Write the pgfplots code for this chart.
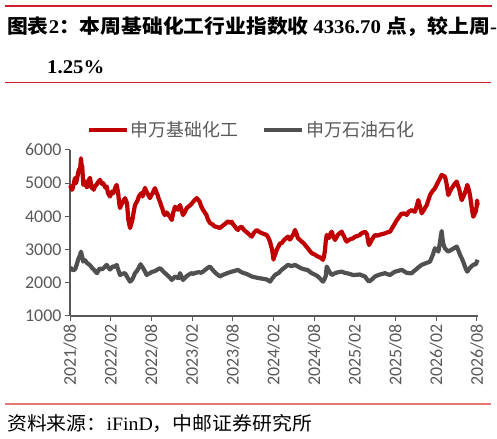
\documentclass[border=0pt]{standalone}
\usepackage{fontspec}
\usepackage{graphicx}
\usepackage{pgfplots}
\pgfplotsset{compat=1.18}
\setmainfont{Liberation Serif}
\newfontfamily\cjk{Noto Sans CJK SC}
\newfontfamily\carlito{Carlito}
\definecolor{myred}{RGB}{192,0,0}
\definecolor{mygray}{RGB}{80,80,80}
\definecolor{axgray}{RGB}{89,89,89}
\definecolor{topred}{RGB}{208,32,44}
\definecolor{pinkred}{RGB}{228,118,118}

\pgfplotstableread{
m v
0.0 4850
0.15 4900
0.3 4800
0.4 4850
0.74 5157
0.9 5000
1.0 5100
1.3 5400
1.5 5450
1.62 5750
1.7 5550
1.8 5500
1.96 4950
2.1 5000
2.3 5050
2.45 4880
2.6 4900
2.8 5100
2.95 5160
3.2 4850
3.35 4900
3.5 4800
3.7 4920
3.9 4950
4.2 5050
4.42 5100
4.7 4980
4.9 5000
5.2 4870
5.41 4900
5.6 4700
5.9 4600
6.2 4750
6.4 4700
6.7 4880
6.88 4950
7.1 4700
7.25 4400
7.37 4250
7.55 4350
7.7 4400
7.9 4480
8.11 4550
8.3 4450
8.4 4400
8.6 3900
8.85 3650
9.0 3750
9.2 3900
9.4 4150
9.58 4340
9.8 4420
10.0 4500
10.15 4600
10.32 4650
10.5 4700
10.7 4600
10.9 4750
11.06 4860
11.2 4780
11.4 4700
11.6 4620
11.79 4550
12.0 4650
12.2 4700
12.35 4780
12.53 4850
12.7 4750
12.9 4650
13.1 4520
13.27 4440
13.45 4320
13.6 4250
13.8 4100
14.0 4040
14.25 4120
14.5 4050
14.75 3980
15.0 3890
15.2 4100
15.48 4290
15.7 4230
15.9 4200
16.05 4280
16.22 4340
16.45 4180
16.66 4040
16.9 4120
17.2 4250
17.5 4300
17.8 4350
18.2 4450
18.45 4500
18.68 4550
18.9 4500
19.1 4450
19.35 4300
19.6 4200
19.85 4120
20.1 4050
20.35 3900
20.64 3800
21.0 3760
21.3 3700
21.7 3680
22.11 3650
22.4 3700
22.7 3750
23.0 3800
23.3 3850
23.6 3800
23.84 3840
24.05 3760
24.3 3700
24.5 3640
24.77 3590
25.0 3660
25.31 3690
25.6 3600
25.9 3550
26.3 3480
26.6 3420
26.79 3390
27.1 3500
27.52 3590
27.85 3540
28.2 3500
28.6 3470
29.0 3440
29.25 3350
29.49 3240
29.65 3100
29.8 3000
30.0 2700
30.1 2780
30.22 2840
30.4 2950
30.6 3050
30.8 3120
30.96 3190
31.21 3190
31.4 3250
31.6 3300
31.9 3350
32.14 3390
32.4 3300
32.6 3350
32.9 3450
33.17 3590
33.4 3480
33.61 3340
33.85 3300
34.1 3250
34.4 3200
34.65 3140
34.9 3080
35.2 3000
35.4 2950
35.63 2890
35.9 2870
36.1 2850
36.3 2820
36.56 2790
36.8 2770
37.0 2750
37.15 2720
37.3 2690
37.45 2800
37.6 3000
37.7 3250
37.85 3440
38.0 3400
38.2 3350
38.4 3480
38.58 3540
38.8 3400
39.07 3290
39.3 3380
39.5 3450
39.8 3500
40.06 3540
40.25 3450
40.4 3400
40.6 3300
40.79 3240
41.0 3270
41.2 3300
41.45 3320
41.72 3340
41.95 3380
42.2 3400
42.5 3420
42.75 3440
42.9 3480
43.1 3500
43.3 3520
43.49 3540
43.65 3500
43.8 3450
43.95 3250
44.08 3140
44.3 3220
44.5 3300
44.75 3380
44.97 3440
45.3 3420
45.7 3450
46.1 3470
46.44 3490
46.8 3520
47.18 3540
47.35 3600
47.5 3650
47.7 3720
47.91 3790
48.15 3880
48.4 3950
48.65 4020
48.9 4090
49.2 4070
49.4 4100
49.64 4040
49.8 4100
50.0 4150
50.2 4170
50.38 4190
50.6 4160
50.86 4140
51.1 4300
51.35 4490
51.6 4300
51.85 4090
52.0 4150
52.2 4200
52.4 4280
52.59 4340
52.85 4500
53.07 4640
53.25 4700
53.4 4750
53.6 4800
53.81 4850
54.05 4950
54.3 5050
54.55 5150
54.8 5250
55.0 5220
55.28 5200
55.5 5000
55.65 4800
55.77 4640
56.0 4750
56.27 4850
56.45 4900
56.6 4950
56.8 5000
57.01 5050
57.2 4920
57.4 4800
57.55 4650
57.75 4490
58.0 4600
58.2 4700
58.4 4820
58.57 4950
58.8 4800
58.97 4640
59.2 4300
59.35 4100
59.46 3990
59.65 4080
59.8 4140
59.95 4300
60.0 4480
60.1 4337
}\redtable

\pgfplotstableread{
m v
0.0 2450
0.15 2437
0.4 2380
0.74 2400
1.0 2550
1.2 2700
1.45 2820
1.62 2937
1.8 2780
1.96 2640
2.2 2680
2.5 2600
2.75 2560
2.95 2530
3.2 2460
3.5 2400
3.75 2340
4.0 2290
4.2 2380
4.42 2437
4.7 2400
5.0 2450
5.2 2500
5.41 2540
5.65 2460
5.9 2400
6.15 2460
6.4 2500
6.65 2480
6.88 2540
7.1 2400
7.37 2235
7.7 2270
8.11 2290
8.5 2150
8.85 2035
9.1 2080
9.3 2150
9.58 2290
9.8 2340
10.0 2400
10.2 2480
10.4 2560
10.65 2480
10.9 2400
11.1 2320
11.3 2235
11.55 2270
11.79 2290
12.1 2330
12.5 2350
12.9 2400
13.27 2437
13.5 2400
13.7 2350
14.0 2290
14.25 2250
14.5 2200
14.75 2150
15.0 2085
15.25 2140
15.48 2190
15.75 2160
16.0 2135
16.22 2290
16.45 2180
16.66 2085
16.9 2140
17.2 2200
17.55 2250
17.9 2290
18.2 2270
18.5 2300
19.0 2320
19.3 2300
19.6 2335
19.8 2370
20.0 2400
20.3 2450
20.64 2490
20.9 2420
21.2 2350
21.5 2290
21.8 2240
22.11 2190
22.45 2230
22.8 2260
23.3 2300
23.84 2335
24.3 2360
24.77 2390
25.1 2340
25.5 2300
25.85 2280
26.2 2250
26.5 2220
26.79 2190
27.4 2160
28.0 2135
28.5 2120
29.0 2100
29.25 2070
29.49 2035
29.85 2140
30.22 2235
30.5 2270
30.8 2300
31.0 2350
31.21 2390
31.65 2460
32.14 2540
32.4 2520
32.6 2500
32.9 2520
33.17 2540
33.4 2510
33.61 2490
33.95 2450
34.3 2420
34.65 2400
35.0 2390
35.3 2340
35.63 2290
36.05 2250
36.5 2200
36.9 2120
37.3 2035
37.5 2100
37.7 2200
37.85 2490
38.2 2350
38.58 2235
38.9 2270
39.2 2300
39.6 2320
40.06 2335
40.5 2300
41.0 2280
41.35 2260
41.72 2235
42.2 2240
42.75 2250
43.1 2220
43.49 2190
43.8 2100
44.08 2035
44.3 2070
44.5 2100
44.75 2150
44.97 2190
45.3 2220
45.7 2250
46.1 2270
46.44 2290
46.8 2260
47.18 2235
47.55 2290
47.91 2335
48.4 2360
48.9 2390
49.3 2340
49.64 2300
50.0 2290
50.38 2290
50.7 2350
51.0 2400
51.4 2470
51.85 2540
52.2 2570
52.59 2600
52.85 2620
53.07 2640
53.3 2750
53.5 2850
53.65 2950
53.81 3040
54.05 2990
54.3 2940
54.45 3100
54.6 3300
54.7 3450
54.8 3560
54.9 3350
55.0 3200
55.15 3100
55.28 3040
55.5 2990
55.77 2940
56.0 2970
56.27 3000
56.6 3040
57.01 3090
57.2 3000
57.4 2900
57.55 2820
57.75 2740
58.0 2620
58.2 2500
58.4 2400
58.57 2335
58.75 2390
58.97 2450
59.2 2500
59.46 2540
59.6 2560
59.8 2550
59.95 2620
60.1 2690
}\graytable

\begin{document}
\begin{tikzpicture}[x=1bp,y=1bp]
\useasboundingbox (0,0) rectangle (497,439);
\draw[line width=2.5bp, color=topred] (5,433) -- (492,433);
\node[anchor=base west, inner sep=0] at (7,405) {\scalebox{1.07}[1]{\fontsize{19.5}{21}\selectfont
 {\cjk\bfseries 图表}{\bfseries 2}{\cjk\bfseries ：本周基础化工行业指数收 }{\bfseries 4336.70 }{\cjk\bfseries 点，较上周}{\bfseries -}}};
\node[anchor=base west, inner sep=0] at (47,365) {\scalebox{1.07}[1]{\fontsize{19.5}{21}\selectfont\bfseries 1.25\%}};
\draw[line width=1bp, color=topred] (5,356) -- (491,356);
\draw[line width=2bp, color=pinkred] (5,35) -- (491,35);
\node[anchor=base west, inner sep=0] at (7,8) {\scalebox{1.05}[1]{\fontsize{19}{20}\selectfont {\cjk 资料来源：}iFinD{\cjk ，中邮证券研究所}}};
\begin{axis}[
  at={(70bp,123bp)}, anchor=south west, scale only axis,
  width=408bp, height=166bp,
  xmin=0, xmax=60.15, ymin=1000, ymax=6000,
  axis lines*=left,
  axis line style={color=axgray, line width=1.2bp},
  tick style={color=axgray, line width=1bp},
  tick align=outside, major tick length=5bp,
  xtick={0,6,...,60},
  xticklabels={2021/08,2022/02,2022/08,2023/02,2023/08,2024/02,2024/08,2025/02,2025/08,2026/02,2026/08},
  x tick label style={rotate=90, anchor=east, font=\carlito\fontsize{18}{18}\selectfont, text=axgray},
  ytick={1000,2000,...,6000},
  y tick label style={font=\carlito\fontsize{18}{18}\selectfont, text=axgray},
  scaled ticks=false,
  /pgf/number format/.cd, set thousands separator={}, assume math mode=true, /pgfplots/.cd,
  clip=false,
  legend style={at={(rel axis cs:0.04,1.12)}, anchor=west, draw=none, fill=none,
    font=\cjk\fontsize{18}{20}\selectfont, text=axgray, inner sep=0pt,
    /tikz/every even column/.append style={column sep=22bp}},
  legend columns=2,
  legend image code/.code={\draw[#1] (0bp,0bp) -- (38bp,0bp);},
]
\addplot[color=myred, line width=4.2bp, line join=round] table[x=m,y=v] {\redtable};
\addlegendentry{申万基础化工}
\addplot[color=mygray, line width=4.2bp, line join=round] table[x=m,y=v] {\graytable};
\addlegendentry{申万石油石化}
\end{axis}
\end{tikzpicture}
\end{document}
